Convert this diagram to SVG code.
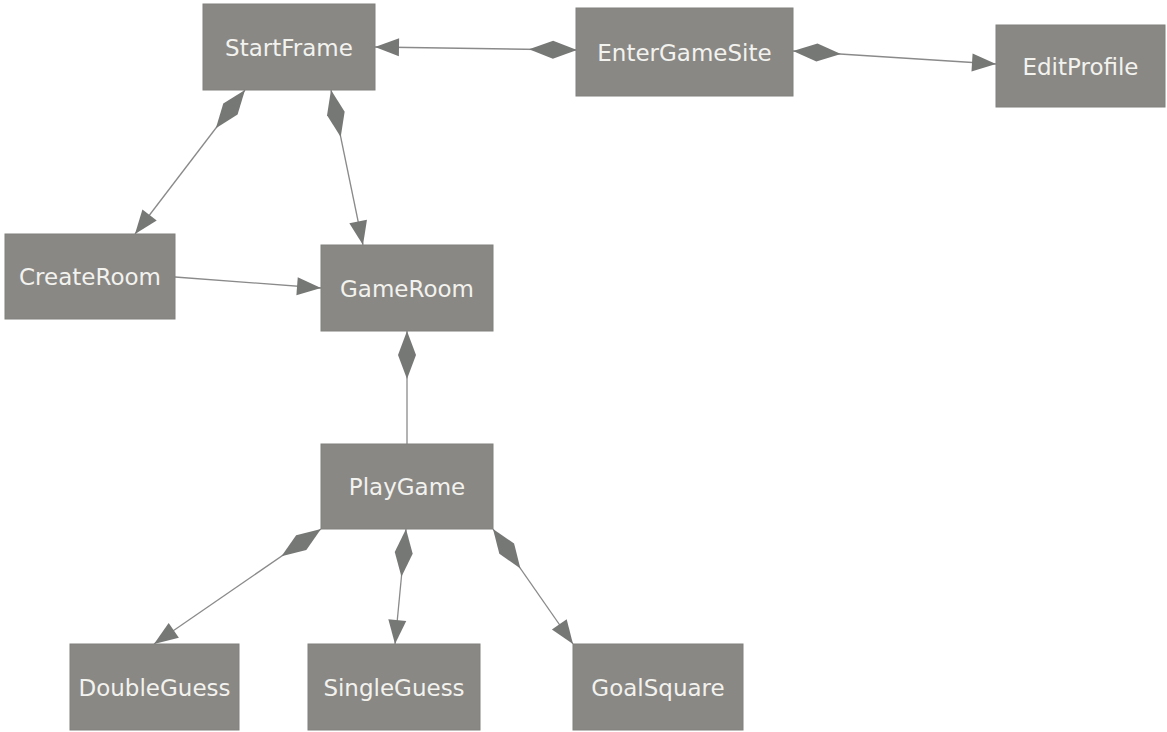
<svg xmlns="http://www.w3.org/2000/svg" width="1167" height="732" viewBox="0 0 1167 732">
  <style>
    .node rect { fill: #8a8884; stroke: #80807c; stroke-width: 1; }
    .node text { fill: #f2f2ef; font-family: "DejaVu Sans", Verdana, sans-serif; font-size: 23px; text-anchor: middle; }
    .link { fill: none; stroke: #8a8a8a; stroke-width: 1.3; }
    .comp { marker-start: url(#diamond); }
    .nav { marker-end: url(#arrow); }
  </style>
  <defs>
    <!-- filled composition diamond, placed at the owning end -->
    <marker id="diamond" markerUnits="userSpaceOnUse" markerWidth="48" markerHeight="18" refX="0" refY="0" orient="auto" overflow="visible">
      <path d="M0,0 L24,-9 L48,0 L24,9 Z" fill="#767876"/>
    </marker>
    <!-- filled navigation arrowhead -->
    <marker id="arrow" markerUnits="userSpaceOnUse" markerWidth="24" markerHeight="18" refX="24" refY="0" orient="auto" overflow="visible">
      <path d="M0,-9 L24,0 L0,9 Z" fill="#767876"/>
    </marker>
  </defs>
  <rect width="1167" height="732" fill="#ffffff"/>

  <g id="connectors">
    <path class="link comp nav" d="M577,50 L375,47"/>
    <path class="link comp nav" d="M793,51 L996,64"/>
    <path class="link comp nav" d="M245,90 L135,234"/>
    <path class="link comp nav" d="M331,90 L363,245"/>
    <path class="link nav" d="M175,277 L321,288"/>
    <path class="link comp" d="M407,331 L407,444"/>
    <path class="link comp nav" d="M321,529 L154,644"/>
    <path class="link comp nav" d="M406,529 L395,644"/>
    <path class="link comp nav" d="M493,529 L573,644"/>
  </g>

  <g id="StartFrame" class="node">
    <rect x="203" y="4" width="172" height="86"/>
    <text x="289" y="55.5">StartFrame</text>
  </g>
  <g id="EnterGameSite" class="node">
    <rect x="576" y="8" width="217" height="88"/>
    <text x="684.5" y="60.5">EnterGameSite</text>
  </g>
  <g id="EditProfile" class="node">
    <rect x="996" y="25" width="169" height="82"/>
    <text x="1080.5" y="74.5">EditProfile</text>
  </g>
  <g id="CreateRoom" class="node">
    <rect x="5" y="234" width="170" height="85"/>
    <text x="90" y="285">CreateRoom</text>
  </g>
  <g id="GameRoom" class="node">
    <rect x="321" y="245" width="172" height="86"/>
    <text x="407" y="296.5">GameRoom</text>
  </g>
  <g id="PlayGame" class="node">
    <rect x="321" y="444" width="172" height="85"/>
    <text x="407" y="494.5">PlayGame</text>
  </g>
  <g id="DoubleGuess" class="node">
    <rect x="70" y="644" width="169" height="86"/>
    <text x="154.5" y="695.5">DoubleGuess</text>
  </g>
  <g id="SingleGuess" class="node">
    <rect x="308" y="644" width="172" height="86"/>
    <text x="394" y="695.5">SingleGuess</text>
  </g>
  <g id="GoalSquare" class="node">
    <rect x="573" y="644" width="170" height="86"/>
    <text x="658" y="695.5">GoalSquare</text>
  </g>
</svg>
